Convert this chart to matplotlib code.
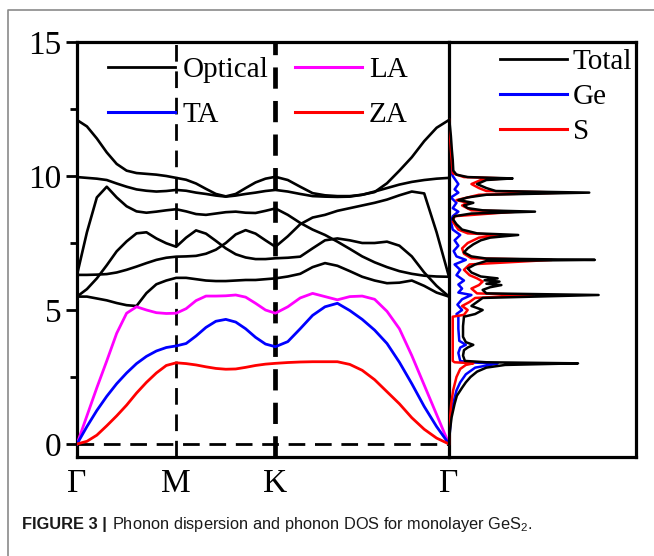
import matplotlib
matplotlib.use("Agg")
import matplotlib.pyplot as plt
from matplotlib.lines import Line2D

# ---------------- data ----------------
# k-path coordinate (Gamma=0, M=1, K=2, Gamma=3.75)
kpts = [0.0, 0.1, 0.2, 0.3, 0.4, 0.5, 0.6, 0.7, 0.8, 0.9, 1.0,
        1.1, 1.2, 1.3, 1.4, 1.5, 1.6, 1.7, 1.8, 1.9, 2.0,
        2.125, 2.25, 2.375, 2.5, 2.625, 2.75, 2.875, 3.0, 3.125, 3.25, 3.375, 3.5, 3.625, 3.75]
ktick_pos = [0.0, 1.0, 2.0, 3.75]
ktick_labels = ["Γ", "M", "K", "Γ"]

za = [0.0, 0.1, 0.33, 0.68, 1.05, 1.45, 1.9, 2.3, 2.65, 2.93, 3.03,
      3.0, 2.95, 2.88, 2.82, 2.79, 2.8, 2.86, 2.93, 2.98, 3.01,
      3.04, 3.06, 3.07, 3.07, 3.07, 2.97, 2.75, 2.4, 1.95, 1.5, 0.98, 0.55, 0.22, 0.0]
ta = [0.0, 0.65, 1.25, 1.78, 2.25, 2.65, 3.0, 3.27, 3.47, 3.6, 3.66,
      3.75, 4.03, 4.35, 4.58, 4.65, 4.55, 4.3, 3.98, 3.73, 3.63,
      3.82, 4.3, 4.8, 5.12, 5.25, 4.98, 4.65, 4.25, 3.75, 3.05, 2.25, 1.4, 0.65, 0.0]
la = [0.0, 1.05, 2.1, 3.1, 4.13, 4.88, 5.12, 5.0, 4.9, 4.87, 4.88,
      5.05, 5.35, 5.52, 5.52, 5.53, 5.56, 5.48, 5.25, 5.0, 4.88,
      5.12, 5.45, 5.62, 5.5, 5.38, 5.5, 5.52, 5.4, 4.95, 4.3, 3.3, 2.2, 1.1, 0.0]

optical = [
    [12.09, 11.85, 11.4, 10.88, 10.45, 10.2, 10.11, 10.08, 10.05, 10.0, 9.93,
     9.86, 9.72, 9.52, 9.33, 9.24, 9.33, 9.55, 9.76, 9.9, 9.97,
     9.85, 9.6, 9.36, 9.28, 9.25, 9.25, 9.3, 9.4, 9.73, 10.2, 10.7, 11.3, 11.8, 12.09],
    [9.96, 9.93, 9.9, 9.85, 9.72, 9.6, 9.5, 9.45, 9.42, 9.44, 9.48,
     9.45, 9.38, 9.33, 9.27, 9.23, 9.27, 9.33, 9.38, 9.44, 9.48,
     9.42, 9.33, 9.25, 9.23, 9.22, 9.23, 9.3, 9.42, 9.55, 9.68, 9.78, 9.85, 9.9, 9.93],
    [6.31, 7.9, 9.2, 9.6, 9.2, 8.87, 8.68, 8.63, 8.67, 8.72, 8.76,
     8.68, 8.58, 8.55, 8.6, 8.65, 8.67, 8.63, 8.62, 8.7, 8.79,
     8.55, 8.25, 8.0, 7.8, 7.55, 7.28, 7.0, 6.78, 6.6, 6.45, 6.35, 6.28, 6.25, 6.24],
    [5.5, 5.78, 6.18, 6.67, 7.19, 7.56, 7.86, 7.9, 7.67, 7.49, 7.36,
     7.7, 7.97, 7.85, 7.58, 7.3, 7.08, 6.96, 6.9, 6.9, 6.93,
     6.95, 6.99, 7.3, 7.6, 7.67, 7.6, 7.5, 7.5, 7.55, 7.4, 7.0, 6.4, 5.9, 5.5],
    [6.31, 6.31, 6.32, 6.34, 6.4, 6.5, 6.62, 6.75, 6.87, 6.95, 6.99,
     7.0, 7.02, 7.1, 7.25, 7.5, 7.82, 7.98, 7.85, 7.6, 7.36,
     7.75, 8.2, 8.45, 8.55, 8.7, 8.8, 8.9, 9.0, 9.12, 9.28, 9.42, 9.35, 7.9, 6.24],
    [5.5, 5.5, 5.43, 5.36, 5.26, 5.18, 5.15, 5.63, 5.96, 6.1, 6.2,
     6.2, 6.15, 6.1, 6.08, 6.08, 6.1, 6.12, 6.12, 6.15, 6.18,
     6.25, 6.35, 6.6, 6.75, 6.65, 6.45, 6.24, 6.1, 6.0, 6.02, 6.1, 5.9, 5.65, 5.5],
]

# phonon DOS (frequency, value)
tot_f = [0.0, 0.5, 1.0, 1.5, 1.8, 2.1, 2.3, 2.5, 2.7, 2.85, 2.95, 3.01, 3.05, 3.1, 3.3, 3.5, 3.6,
         3.7, 3.8, 4.0, 4.4, 4.75, 4.85, 5.0, 5.15, 5.3, 5.45, 5.56, 5.62, 5.75, 5.85, 5.93, 5.98,
         6.06, 6.11, 6.18, 6.25, 6.4, 6.55, 6.7, 6.83, 6.87, 6.92, 7.0, 7.15, 7.3, 7.45, 7.6, 7.7,
         7.8, 7.86, 8.0, 8.2, 8.4, 8.5, 8.6, 8.67, 8.72, 8.8, 8.9, 9.0, 9.1, 9.2, 9.3, 9.38, 9.44,
         9.55, 9.7, 9.85, 9.91, 9.96, 10.05, 10.2, 10.6, 11.0, 11.5, 12.0, 12.1]
tot_v = [0.0, 0.005, 0.014, 0.03, 0.042, 0.07, 0.09, 0.115, 0.15, 0.2, 0.3, 0.69, 0.2, 0.085, 0.075, 0.08, 0.1,
         0.13, 0.09, 0.075, 0.075, 0.08, 0.14, 0.18, 0.12, 0.15, 0.18, 0.80, 0.2, 0.18, 0.22, 0.28, 0.2,
         0.27, 0.19, 0.26, 0.17, 0.12, 0.1, 0.14, 0.2, 0.78, 0.2, 0.12, 0.08, 0.1, 0.13, 0.17, 0.22,
         0.37, 0.15, 0.07, 0.04, 0.02, 0.03, 0.12, 0.46, 0.18, 0.1, 0.08, 0.13, 0.05, 0.1, 0.2, 0.75, 0.25,
         0.2, 0.15, 0.2, 0.34, 0.1, 0.04, 0.023, 0.02, 0.015, 0.01, 0.003, 0.0]
ge_f = [0.0, 1.0, 1.5, 2.0, 2.3, 2.6, 2.85, 3.0, 3.05, 3.1, 3.4, 3.6, 3.7, 3.85, 4.3, 4.75, 4.85, 5.0,
        5.2, 5.4, 5.56, 5.65, 5.8, 5.95, 6.1, 6.3, 6.5, 6.7, 6.87, 7.0, 7.2, 7.4, 7.6, 7.8, 8.0, 8.3,
        8.5, 8.67, 8.8, 9.0, 9.2, 9.38, 9.5, 9.7, 9.9, 10.0, 10.2, 11.0, 12.1]
ge_v = [0.0, 0.01, 0.022, 0.04, 0.06, 0.09, 0.14, 0.26, 0.1, 0.06, 0.05, 0.06, 0.09, 0.055, 0.05, 0.05, 0.04, 0.07,
        0.045, 0.07, 0.12, 0.05, 0.07, 0.05, 0.08, 0.04, 0.06, 0.03, 0.09, 0.04, 0.025, 0.05, 0.03, 0.06, 0.02, 0.01,
        0.02, 0.05, 0.02, 0.04, 0.01, 0.05, 0.03, 0.05, 0.03, 0.02, 0.01, 0.007, 0.0]
s_f = [0.0, 1.0, 1.5, 2.0, 2.5, 2.8, 2.95, 3.01, 3.05, 3.1, 4.75, 4.82, 5.0, 5.15, 5.3, 5.45, 5.56, 5.62,
       5.8, 5.93, 6.06, 6.18, 6.3, 6.5, 6.7, 6.87, 6.93, 7.1, 7.3, 7.5, 7.7, 7.8, 7.86, 8.0, 8.3, 8.5,
       8.67, 8.72, 8.9, 9.0, 9.1, 9.3, 9.38, 9.44, 9.55, 9.7, 9.85, 9.91, 9.96, 10.1, 11.0, 12.1]
s_v = [0.0, 0.006, 0.012, 0.022, 0.04, 0.06, 0.09, 0.13, 0.03, 0.02, 0.02, 0.08, 0.1, 0.07, 0.11, 0.14, 0.45, 0.15,
       0.12, 0.16, 0.18, 0.15, 0.11, 0.08, 0.11, 0.55, 0.12, 0.08, 0.07, 0.1, 0.16, 0.28, 0.1, 0.05, 0.02, 0.03,
       0.36, 0.12, 0.07, 0.1, 0.04, 0.16, 0.62, 0.2, 0.16, 0.12, 0.17, 0.3, 0.08, 0.02, 0.01, 0.0]

# ---------------- figure ----------------
W, H = 654, 556
fig = plt.figure(figsize=(W / 100, H / 100), dpi=100)
serif = ["Liberation Serif", "DejaVu Serif"]

def fx(px):
    return px / W

def fy(py):
    return 1 - py / H

x0, x1, x2 = 77, 449, 636
ytop, ybot = 42, 457
ax = fig.add_axes([fx(x0), fy(ybot), fx(x1) - fx(x0), fy(ytop) - fy(ybot)])
axd = fig.add_axes([fx(x1), fy(ybot), fx(x2) - fx(x1), fy(ytop) - fy(ybot)])

ylo = -0.485
for a in (ax, axd):
    a.set_ylim(ylo, 15)
    for s in a.spines.values():
        s.set_linewidth(2.3)

ax.set_xlim(kpts[0], kpts[-1])

# dashed guides
ax.axvline(ktick_pos[1], color="k", lw=2.0, dashes=(6, 3.5), zorder=1)
ax.axvline(ktick_pos[2], color="k", lw=3.4, dashes=(4.5, 2.6), zorder=1)
ax.axhline(0, color="k", lw=2.0, dashes=(6, 3.5), zorder=1)

for band in optical:
    ax.plot(kpts, band, color="k", lw=1.9, zorder=3)
ax.plot(kpts, la, color="#ff00ff", lw=2.0, zorder=4)
ax.plot(kpts, ta, color="#0000ff", lw=2.0, zorder=4)
ax.plot(kpts, za, color="#ff0000", lw=2.0, zorder=4)

ax.set_xticks(ktick_pos)
ax.set_xticklabels(ktick_labels, fontsize=24, family=serif)
ax.tick_params(axis="x", length=0, pad=8)
ax.set_yticks([0, 5, 10, 15])
ax.set_yticks([2.5, 7.5, 12.5], minor=True)
ax.set_yticklabels(["0", "5", "10", "15"], fontsize=24, family=serif)
ax.tick_params(axis="y", which="major", direction="out", length=8, width=2, pad=3)
ax.tick_params(axis="y", which="minor", direction="out", length=5, width=2)
ax.spines["right"].set_visible(False)

# legend (dispersion)
h = [Line2D([], [], color="k", lw=2), Line2D([], [], color="#0000ff", lw=2.2),
     Line2D([], [], color="#ff00ff", lw=2.2), Line2D([], [], color="#ff0000", lw=2.2)]
leg = ax.legend(h, ["Optical", "TA", "LA", "ZA"], ncol=2, frameon=False,
                loc="upper left", bbox_to_anchor=(fx(108), fy(57)), bbox_transform=fig.transFigure,
                borderpad=0, borderaxespad=0, handlelength=2.3, handletextpad=0.25,
                columnspacing=0.9, labelspacing=0.62, prop={"family": serif, "size": 21})

# DOS panel
axd.plot(ge_v, ge_f, color="#0000ff", lw=1.8, zorder=2)
axd.plot(s_v, s_f, color="#ff0000", lw=1.8, zorder=3)
axd.plot(tot_v, tot_f, color="k", lw=1.8, zorder=4)
axd.set_xlim(0, 1)
axd.set_xticks([])
axd.set_yticks([])
hd = [Line2D([], [], color="k", lw=2), Line2D([], [], color="#0000ff", lw=2.2),
      Line2D([], [], color="#ff0000", lw=2.2)]
axd.legend(hd, ["Total", "Ge", "S"], frameon=False, loc="upper left",
           bbox_to_anchor=(fx(500), fy(49)), bbox_transform=fig.transFigure,
           borderpad=0, borderaxespad=0, handlelength=2.3, handletextpad=0.2,
           labelspacing=0.29, prop={"family": serif, "size": 21})

# outer grey frame (top and left)
fig.add_artist(Line2D([fx(8), fx(8), fx(W)], [0, fy(10), fy(10)], color="#8a8a8a", lw=1.2))

# caption
cap_font = ["Liberation Sans", "DejaVu Sans"]
cap_size = 11.8
t1 = fig.text(fx(22), fy(529), "FIGURE 3 |", fontsize=cap_size, fontweight="bold", family=cap_font,
              color="#1a1a1a", va="baseline")
fig.canvas.draw()
bb = t1.get_window_extent(fig.canvas.get_renderer())
fig.text((bb.x1 + 5) / W, fy(529), "Phonon dispersion and phonon DOS for monolayer GeS$_\\mathregular{2}$.",
         fontsize=cap_size, family=cap_font, color="#1a1a1a", va="baseline")

fig.savefig("out.png", dpi=100)
